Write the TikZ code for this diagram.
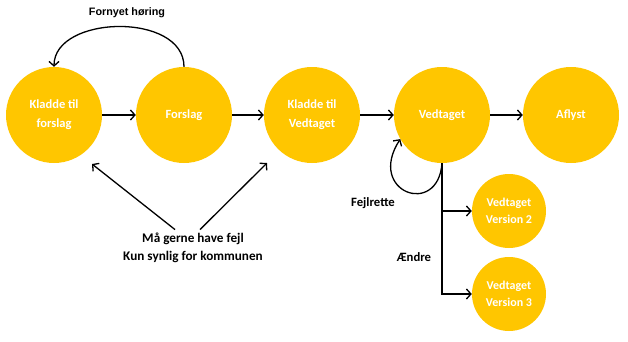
\documentclass[tikz,border=0pt]{standalone}
\usepackage{fontspec}
\setmainfont{Carlito}
\newfontfamily\arialfont{Liberation Sans}
\usetikzlibrary{arrows.meta,calc}
\definecolor{stagegold}{RGB}{255,198,0}
\tikzset{
  stage/.style={circle, fill=stagegold, minimum size=96pt, inner sep=0pt,
    text=white, align=center, font=\bfseries\fontsize{12.5}{19}\selectfont},
  substage/.style={stage, minimum size=74pt, font=\bfseries\fontsize{12}{17}\selectfont},
  arr/.style={-{Straight Barb[length=4.5pt,width=10pt]}, line width=1.3pt},
  lbl/.style={font=\bfseries\fontsize{12.7}{14}\selectfont}
}
\begin{document}
\begin{tikzpicture}[x=1pt,y=-1pt]
  \useasboundingbox[fill=white] (0,0) rectangle (628,341);
  % Stages
  \node[stage] (kladde) at (54,115) {Kladde til\\forslag};
  \node[stage] (forslag) at (184,115) {Forslag};
  \node[stage] (kladdeved) at (312,115) {Kladde til\\Vedtaget};
  \node[stage] (vedtaget) at (442,115) {Vedtaget};
  \node[stage] (aflyst) at (571,115) {Aflyst};
  \node[substage] (vtwo) at (509,211) {Vedtaget\\Version 2};
  \node[substage] (vthree) at (509,294) {Vedtaget\\Version 3};
  % Main flow
  \draw[arr] (kladde) -- (forslag);
  \draw[arr] (forslag) -- (kladdeved);
  \draw[arr] (kladdeved) -- (vedtaget);
  \draw[arr] (vedtaget) -- (aflyst);
  % Fornyet hoering
  \node[font=\arialfont\bfseries\fontsize{10.8}{13}\selectfont] (fornyet) at (127,13) {Fornyet høring};
  \draw[arr] (forslag.north) .. controls +(0,-55) and +(0,-52) .. (kladde.north);
  % Fejlrette loop
  \node[lbl] (fejl) at (373,203) {Fejlrette};
  \draw[arr] (vedtaget.south) .. controls (438,218) and (366,192) .. (vedtaget.210);
  % Aendre branches
  \node[lbl] (aendre) at (414,257) {Ændre};
  \draw[arr] (vedtaget.south) -- (vedtaget.south |- vthree) -- (vthree.west);
  \draw[arr] (vedtaget.south |- vtwo) -- (vtwo.west);
  % Note
  \node[font=\bfseries\fontsize{13.2}{18}\selectfont, align=center] (note) at (193,248)
    {Må gerne have fejl\\Kun synlig for kommunen};
  \draw[arr] ([xshift=-18pt]note.north) -- ($(kladde)+(38,49)$);
  \draw[arr] ([xshift=7pt]note.north) -- ($(kladdeved)+(-45,48)$);
\end{tikzpicture}
\end{document}
